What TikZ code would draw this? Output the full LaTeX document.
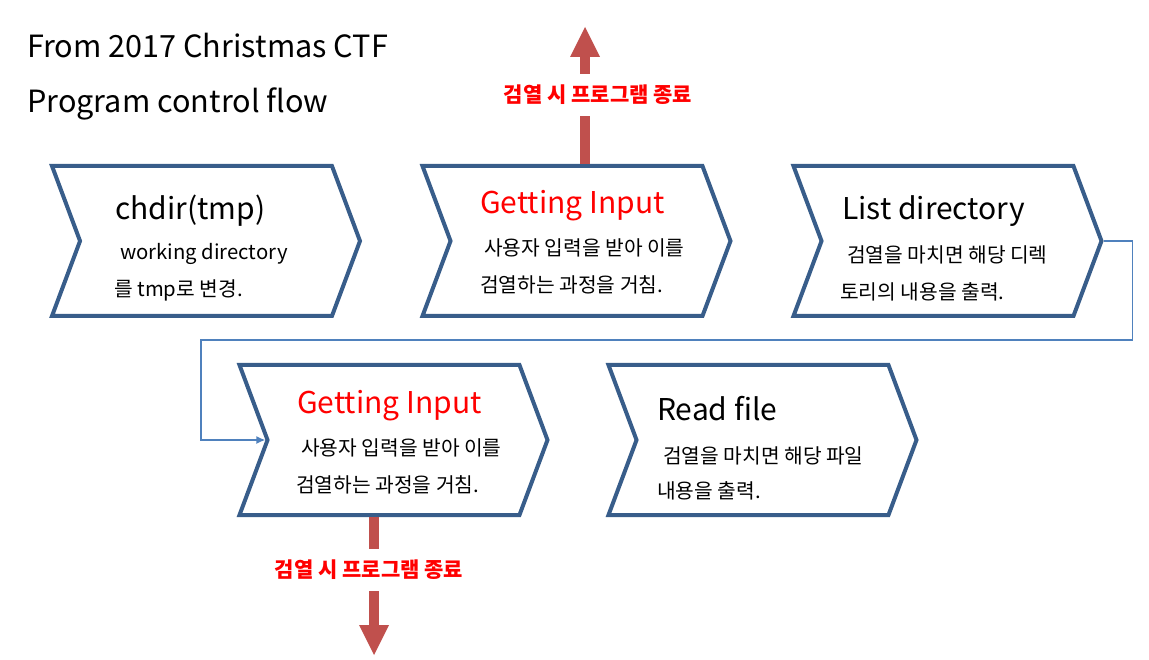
\documentclass[tikz,border=0pt]{standalone}
\usepackage{fontspec}
\setmainfont{Noto Sans CJK KR}
\usetikzlibrary{shapes.symbols,arrows.meta}
\definecolor{chevline}{RGB}{56,93,138}
\definecolor{linkblue}{RGB}{79,129,189}
\definecolor{stopred}{RGB}{192,80,77}
\begin{document}
\begin{tikzpicture}[x=1pt,y=-1pt,
    chev/.style={signal, signal from=west, signal to=east, signal pointer angle=139,
      draw=chevline, line width=4pt, fill=white, minimum width=308pt, minimum height=150pt},
    txt/.style={anchor=base west, inner sep=0pt},
    head/.style={txt, font=\fontsize{30}{36}\selectfont},
    body/.style={txt, font=\fontsize{20.3}{24}\selectfont},
    stop/.style={draw=stopred, line width=10.5pt, -{Triangle[width=30pt,length=30pt,line width=0pt]}},
    stoplabel/.style={fill=white, text=red, inner xsep=2pt, inner ysep=11pt, font=\bfseries\fontsize{21}{25}\selectfont}]
  \useasboundingbox (0,0) rectangle (1149,660);
  \node[head, font=\fontsize{30.6}{36}\selectfont] (t1) at (27,58) {From 2017 Christmas CTF};
  \node[head, font=\fontsize{30.6}{36}\selectfont] (t2) at (27,113) {Program control flow};
  \node[chev] (c1) at (206,241) {};
  \node[chev] (c2) at (576.5,241) {};
  \node[chev] (c3) at (947.5,241) {};
  \node[chev] (c4) at (393.5,440) {};
  \node[chev] (c5) at (762.5,440) {};
  \node[head] (h1) at (115,220) {chdir(tmp)};
  \node[body] (b1) at (120,260) {working directory};
  \node[body] (b2) at (114,297) {를 tmp로 변경.};
  \node[head, text=red] (h2) at (480,214) {Getting Input};
  \node[body] (b3) at (484,256) {사용자 입력을 받아 이를};
  \node[body] (b4) at (480,293) {검열하는 과정을 거침.};
  \node[head] (h3) at (842,220) {List directory};
  \node[body] (b5) at (847,263) {검열을 마치면 해당 디렉};
  \node[body] (b6) at (840,300) {토리의 내용을 출력.};
  \node[head, text=red] (h4) at (297,413) {Getting Input};
  \node[body] (b7) at (301,455) {사용자 입력을 받아 이를};
  \node[body] (b8) at (296,492) {검열하는 과정을 거침.};
  \node[head] (h5) at (657,420) {Read file};
  \node[body] (b9) at (663,463) {검열을 마치면 해당 파일};
  \node[body] (b10) at (657,498) {내용을 출력.};
  \coordinate (up) at (585,27);
  \coordinate (down) at (374,655);
  \draw [linkblue, line width=1.5pt, -{Latex[length=9pt,width=8pt]}] (c3.east) -- ++(29,0) |- (201,340) |- (c4.west);
  \draw [stop] ([xshift=8.5pt]c2.north) -- (up);
  \draw [stop] ([xshift=-19.5pt]c4.south) -- (down);
  \node[stoplabel] (s1) at (598,95) {검열 시 프로그램 종료};
  \node[stoplabel] (s2) at (369,570) {검열 시 프로그램 종료};
\end{tikzpicture}
\end{document}
